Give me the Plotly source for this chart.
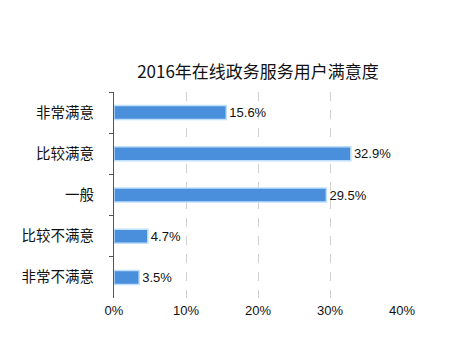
import plotly.graph_objects as go

categories = ["非常满意", "比较满意", "一般", "比较不满意", "非常不满意"]
values = [15.6, 32.9, 29.5, 4.7, 3.5]
labels = ["15.6%", "32.9%", "29.5%", "4.7%", "3.5%"]
tick_vals = [0, 10, 20, 30, 40]
tick_text = ["0%", "10%", "20%", "30%", "40%"]

cjk = "Noto Sans CJK SC"
latin = "Liberation Sans, Noto Sans CJK SC"

fig = go.Figure(go.Bar(
    y=categories, x=values, orientation="h",
    marker=dict(color="#4A8FDB", line=dict(color="#BFE0FA", width=1.5)),
    text=labels, textposition="outside", cliponaxis=False,
    constraintext="none",
    textfont=dict(family=latin, size=13, color="#111111"),
))

# page body has an 8px offset; margins compensate for it
fig.update_layout(
    width=454, height=363,
    margin=dict(l=106, r=60, t=84, b=73, autoexpand=False),
    paper_bgcolor="white", plot_bgcolor="white",
    bargap=0.66,
    showlegend=False,
    title=dict(text="2016年在线政务服务用户满意度", x=0.5,
               xanchor="center", xref="paper",
               y=1 - 64 / 363, yanchor="middle",
               font=dict(family=cjk, size=17, color="#111111")),
    xaxis=dict(range=[0, 40], tickvals=tick_vals, ticktext=tick_text,
               showgrid=True, gridcolor="#D0D0D0", griddash="dash", gridwidth=1,
               zeroline=False, showline=False, ticks="", automargin=False,
               ticklabelstandoff=3,
               tickfont=dict(family=latin, size=13, color="#111111")),
    yaxis=dict(categoryorder="array", categoryarray=categories,
               autorange="reversed", automargin=False,
               showline=True, linecolor="#555555", linewidth=1,
               ticks="outside", ticklen=4, tickcolor="#555555",
               tickson="boundaries", showgrid=False,
               ticklabelstandoff=16,
               tickfont=dict(family=cjk, size=14.5, color="#111111")),
)

fig.write_html("out.html")
